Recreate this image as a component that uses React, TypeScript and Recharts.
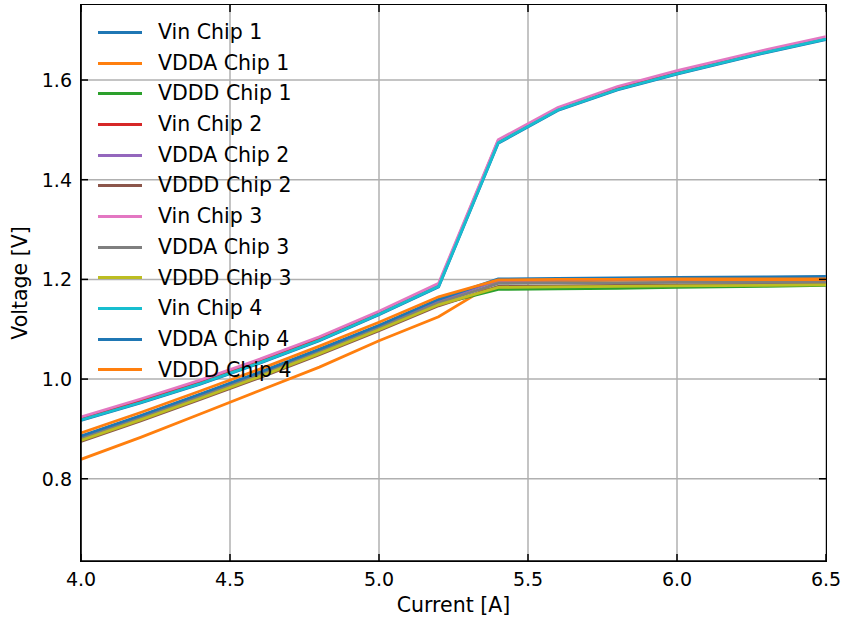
import React from 'react';
import { LineChart, Line, XAxis, YAxis, CartesianGrid, Legend } from 'recharts';

// measurement points (current in A)
const currents = [4.0, 4.2, 4.4, 4.6, 4.8, 5.0, 5.2, 5.4, 5.6, 5.8, 6.0, 6.3, 6.5];

const vinChip1 = [0.917, 0.952, 0.990, 1.032, 1.077, 1.129, 1.185, 1.473, 1.539, 1.580, 1.612, 1.655, 1.681];
const vddaChip1 = [0.839, 0.883, 0.930, 0.977, 1.024, 1.077, 1.125, 1.197, 1.197, 1.198, 1.198, 1.199, 1.199];
const vdddChip1 = [0.878, 0.919, 0.962, 1.006, 1.052, 1.100, 1.150, 1.180, 1.181, 1.182, 1.184, 1.186, 1.188];
const vinChip2 = [0.921, 0.957, 0.995, 1.037, 1.082, 1.133, 1.189, 1.478, 1.543, 1.585, 1.617, 1.659, 1.685];
const vddaChip2 = [0.884, 0.925, 0.968, 1.012, 1.058, 1.106, 1.157, 1.198, 1.199, 1.200, 1.201, 1.202, 1.203];
const vdddChip2 = [0.875, 0.916, 0.959, 1.003, 1.049, 1.097, 1.147, 1.186, 1.187, 1.188, 1.189, 1.190, 1.191];
const vinChip3 = [0.924, 0.960, 0.998, 1.040, 1.085, 1.136, 1.192, 1.480, 1.545, 1.587, 1.619, 1.661, 1.687];
const vddaChip3 = [0.881, 0.922, 0.965, 1.009, 1.055, 1.103, 1.153, 1.192, 1.193, 1.193, 1.194, 1.194, 1.194];
const vdddChip3 = [0.877, 0.918, 0.961, 1.005, 1.051, 1.099, 1.149, 1.184, 1.185, 1.186, 1.187, 1.188, 1.189];
const vinChip4 = [0.918, 0.953, 0.991, 1.033, 1.078, 1.130, 1.186, 1.474, 1.540, 1.581, 1.613, 1.656, 1.682];
const vddaChip4 = [0.886, 0.927, 0.970, 1.014, 1.060, 1.108, 1.160, 1.201, 1.202, 1.203, 1.204, 1.205, 1.206];
const vdddChip4 = [0.892, 0.933, 0.976, 1.020, 1.066, 1.114, 1.165, 1.199, 1.200, 1.200, 1.201, 1.201, 1.201];

const seriesNames = [
  'Vin Chip 1', 'VDDA Chip 1', 'VDDD Chip 1',
  'Vin Chip 2', 'VDDA Chip 2', 'VDDD Chip 2',
  'Vin Chip 3', 'VDDA Chip 3', 'VDDD Chip 3',
  'Vin Chip 4', 'VDDA Chip 4', 'VDDD Chip 4',
];
const seriesValues = [
  vinChip1, vddaChip1, vdddChip1,
  vinChip2, vddaChip2, vdddChip2,
  vinChip3, vddaChip3, vdddChip3,
  vinChip4, vddaChip4, vdddChip4,
];
const xTicks = [4.0, 4.5, 5.0, 5.5, 6.0, 6.5];
const yTicks = [0.8, 1.0, 1.2, 1.4, 1.6];

// matplotlib tab10 cycle
const COLORS = [
  '#1f77b4', '#ff7f0e', '#2ca02c', '#d62728', '#9467bd', '#8c564b',
  '#e377c2', '#7f7f7f', '#bcbd22', '#17becf', '#1f77b4', '#ff7f0e',
];

const W = 846;
const H = 619;
const LEFT = 81;
const RIGHT = 826;
const TOP = 5;
const BOTTOM = 561;
const TICK_LEN = 7;
const FONT = '"DejaVu Sans", sans-serif';

const chartData = currents.map((c, i) => {
  const row: Record<string, number> = { current: c };
  seriesNames.forEach((name, s) => {
    row[name] = seriesValues[s][i];
  });
  return row;
});

const XTick = ({ x, payload }: any) => (
  <g>
    <line x1={x} x2={x} y1={BOTTOM} y2={BOTTOM - TICK_LEN} stroke="#000" strokeWidth={1.5} />
    <line x1={x} x2={x} y1={TOP} y2={TOP + TICK_LEN} stroke="#000" strokeWidth={1.5} />
    <text x={x} y={BOTTOM + 25} textAnchor="middle" fontSize={19} fontFamily={FONT} fill="#000">
      {Number(payload.value).toFixed(1)}
    </text>
  </g>
);

const YTick = ({ y, payload }: any) => (
  <g>
    <line x1={LEFT} x2={LEFT + TICK_LEN} y1={y} y2={y} stroke="#000" strokeWidth={1.5} />
    <line x1={RIGHT} x2={RIGHT - TICK_LEN} y1={y} y2={y} stroke="#000" strokeWidth={1.5} />
    <text x={LEFT - 9} y={y + 7} textAnchor="end" fontSize={19} fontFamily={FONT} fill="#000">
      {Number(payload.value).toFixed(1)}
    </text>
  </g>
);

// keep the plotting order (recharts sorts legend items by name otherwise)
const renderLegend = ({ payload }: any) => {
  const items = [...(payload || [])].sort(
    (a: any, b: any) => seriesNames.indexOf(a.value) - seriesNames.indexOf(b.value),
  );
  return (
    <div style={{ fontFamily: FONT, fontSize: 20.5, color: '#000' }}>
      {items.map((entry: any) => (
        <div key={entry.value} style={{ display: 'flex', alignItems: 'center', height: 30.7 }}>
          <span style={{ display: 'inline-block', width: 44, height: 3, background: entry.color, marginRight: 16 }} />
          <span style={{ lineHeight: '30.7px', whiteSpace: 'nowrap' }}>{entry.value}</span>
        </div>
      ))}
    </div>
  );
};

export default function App() {
  return (
    <div style={{ position: 'relative', width: W, height: H, background: '#fff' }}>
      <style>{'body{margin:0;}'}</style>
      <LineChart
        width={W}
        height={H}
        data={chartData}
        margin={{ top: TOP, right: W - RIGHT, bottom: 28, left: 0 }}
      >
        <CartesianGrid stroke="#b0b0b0" strokeWidth={1.5} horizontalValues={yTicks} verticalValues={xTicks} />
        <XAxis
          dataKey="current"
          type="number"
          domain={[4.0, 6.5]}
          ticks={xTicks}
          allowDataOverflow
          height={30}
          tickSize={0}
          tickLine={false}
          axisLine={{ stroke: '#000', strokeWidth: 1.5 }}
          tick={<XTick />}
          interval={0}
          label={{
            content: () => (
              <text x={(LEFT + RIGHT) / 2} y={BOTTOM + 51} textAnchor="middle" fontSize={20.5} fontFamily={FONT} fill="#000">
                Current [A]
              </text>
            ),
          }}
        />
        <YAxis
          type="number"
          domain={[0.635, 1.7505]}
          ticks={yTicks}
          allowDataOverflow
          width={LEFT}
          tickSize={0}
          tickLine={false}
          axisLine={{ stroke: '#000', strokeWidth: 1.5 }}
          tick={<YTick />}
          interval={0}
          label={{
            content: () => (
              <text
                x={27}
                y={(TOP + BOTTOM) / 2}
                textAnchor="middle"
                fontSize={20.5}
                fontFamily={FONT}
                fill="#000"
                transform={`rotate(-90, 27, ${(TOP + BOTTOM) / 2})`}
              >
                Voltage [V]
              </text>
            ),
          }}
        />
        <Legend
          layout="vertical"
          align="center"
          verticalAlign="middle"
          content={renderLegend}
          wrapperStyle={{ left: 98, top: 17, width: 'auto', height: 'auto' }}
        />
        {seriesNames.map((name, i) => (
          <Line
            key={name}
            type="linear"
            dataKey={name}
            name={name}
            stroke={COLORS[i]}
            strokeWidth={2.8}
            dot={false}
            isAnimationActive={false}
          />
        ))}
      </LineChart>
      <div
        style={{
          position: 'absolute',
          left: LEFT - 0.75,
          top: TOP - 0.75,
          width: RIGHT - LEFT,
          height: BOTTOM - TOP,
          border: '1.5px solid #000',
          pointerEvents: 'none',
        }}
      />
    </div>
  );
}
